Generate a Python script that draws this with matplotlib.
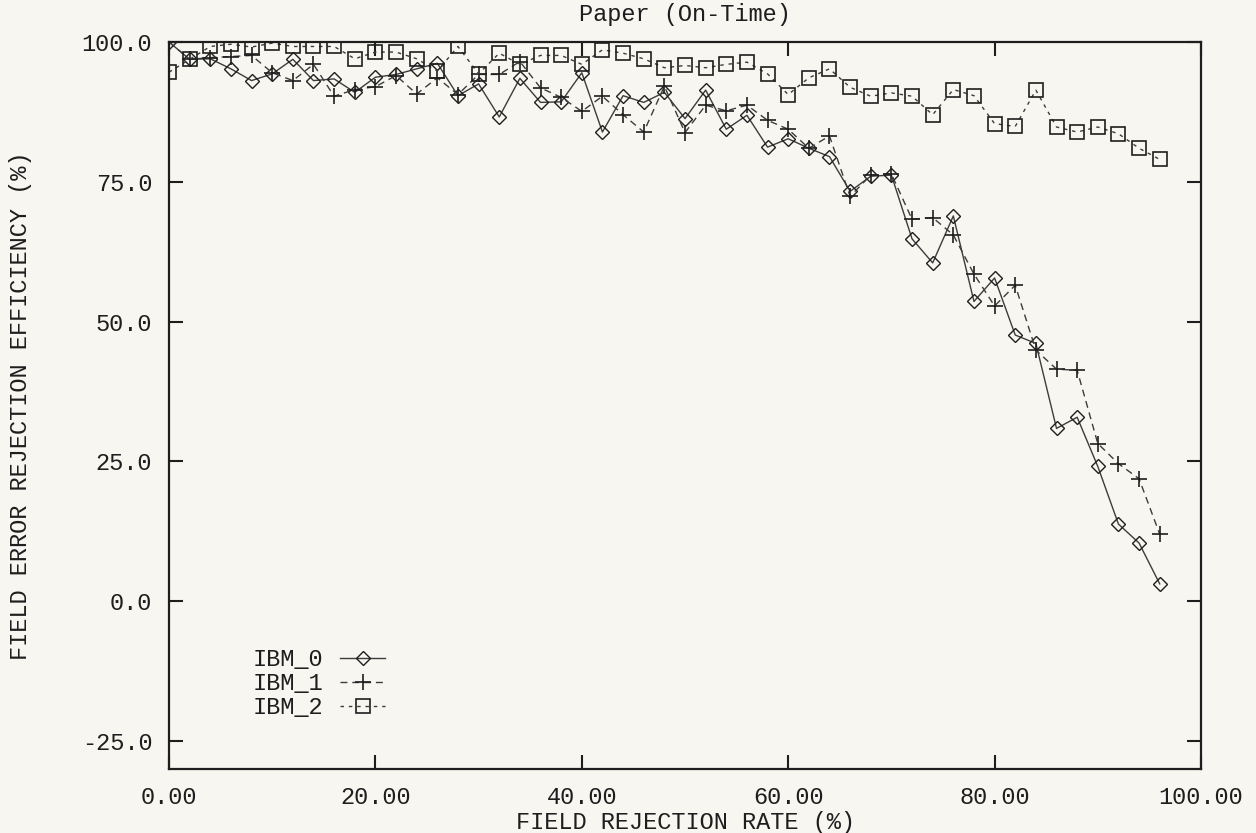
import matplotlib
matplotlib.use("Agg")
import matplotlib.pyplot as plt

# Field rejection rate (%) for each operating point
rejection_rate = list(range(0, 97, 2))

ibm_0 = [100.0, 96.9, 97.0, 95.2, 93.1, 94.3, 96.9, 93.1, 93.4, 91.0,
         93.7, 94.2, 95.2, 96.2, 90.4, 92.5, 86.6, 93.5, 89.2, 89.3,
         94.5, 83.9, 90.4, 89.2, 91.0, 86.3, 91.4, 84.4, 86.9, 81.2,
         82.7, 81.0, 79.5, 73.3, 76.0, 76.2, 64.8, 60.5, 68.9, 53.6,
         57.8, 47.6, 46.1, 30.9, 32.9, 24.1, 13.8, 10.4, 3.1]

ibm_1 = [100.0, 96.9, 97.2, 97.4, 97.6, 94.5, 93.1, 96.0, 90.3, 91.5,
         92.0, 94.0, 90.7, 93.6, 90.6, 94.2, 94.2, 96.5, 91.8, 90.1,
         87.6, 90.3, 87.0, 83.9, 92.1, 83.8, 88.7, 87.7, 88.7, 86.0,
         84.4, 81.0, 83.2, 72.4, 76.2, 76.4, 68.3, 68.6, 65.5, 58.5,
         52.8, 56.5, 44.9, 41.5, 41.3, 28.2, 24.6, 21.9, 12.0]

ibm_2 = [94.6, 96.9, 99.2, 99.6, 99.1, 99.8, 99.2, 99.2, 99.2, 97.0,
         98.2, 98.2, 97.0, 94.8, 99.2, 94.3, 98.0, 96.0, 97.6, 97.6,
         96.0, 98.6, 98.0, 97.0, 95.4, 95.8, 95.4, 96.0, 96.4, 94.3,
         90.6, 93.6, 95.2, 91.9, 90.3, 90.9, 90.3, 87.0, 91.5, 90.4,
         85.4, 84.9, 91.4, 84.8, 83.9, 84.8, 83.6, 81.0, 79.0]

series_names = ["IBM_0", "IBM_1", "IBM_2"]
x_ticks = [0, 20, 40, 60, 80, 100]
y_ticks = [-25, 0, 25, 50, 75, 100]

BG = "#f7f6f1"
INK = "#1e1e1e"
LINE = "#3c3c3c"
FONT = ["Liberation Mono", "DejaVu Sans Mono"]

plt.rcParams["font.family"] = FONT
plt.rcParams["font.size"] = 17

fig = plt.figure(figsize=(12.56, 8.33), dpi=100, facecolor=BG)
ax = fig.add_axes([169 / 1256, 1 - 769 / 833, (1201 - 169) / 1256, (769 - 42) / 833])
ax.set_facecolor(BG)

ax.plot(rejection_rate, ibm_0, color=LINE, lw=1.0, ls="-",
        marker="D", ms=7, mfc="none", mec=INK, mew=1.0, label=series_names[0])
ax.plot(rejection_rate, ibm_1, color=LINE, lw=1.0, ls=(0, (5, 3.5)),
        marker="+", ms=11, mec=INK, mew=1.2, label=series_names[1])
ax.plot(rejection_rate, ibm_2, color=LINE, lw=1.0, ls=(0, (2.5, 3.5)),
        marker="s", ms=9.5, mfc="none", mec=INK, mew=1.2, label=series_names[2])

ax.set_xlim(0, 100)
ax.set_ylim(-30, 100)
ax.set_xticks(x_ticks)
ax.set_yticks(y_ticks)
ax.set_xticklabels([f"{v:.2f}" for v in x_ticks])
ax.set_yticklabels([f"{v:.1f}" for v in y_ticks])
ax.tick_params(axis="both", direction="in", length=10, width=1.5, colors=INK,
               labelsize=17, top=True, right=True)
ax.tick_params(axis="x", pad=12)
ax.tick_params(axis="y", pad=12)
for sp in ax.spines.values():
    sp.set_linewidth(1.6)
    sp.set_color(INK)

ax.set_title("Paper (On-Time)", fontsize=17, color=INK, pad=15)
ax.set_xlabel("FIELD REJECTION RATE (%)", fontsize=17, color=INK, labelpad=2)
ax.set_ylabel("FIELD ERROR REJECTION EFFICIENCY (%)", fontsize=17, color=INK)
ax.yaxis.set_label_coords(-(169 - 32) / 1032, 0.5)

leg = ax.legend(loc="upper left", bbox_to_anchor=((253 - 169) / 1032, (769 - 648) / 727),
                frameon=False, markerfirst=False, fontsize=17, borderpad=0,
                borderaxespad=0, labelspacing=0.05, handlelength=1.9,
                handletextpad=0.7)
for t in leg.get_texts():
    t.set_color(INK)

fig.savefig("out.png", dpi=100, facecolor=BG)
